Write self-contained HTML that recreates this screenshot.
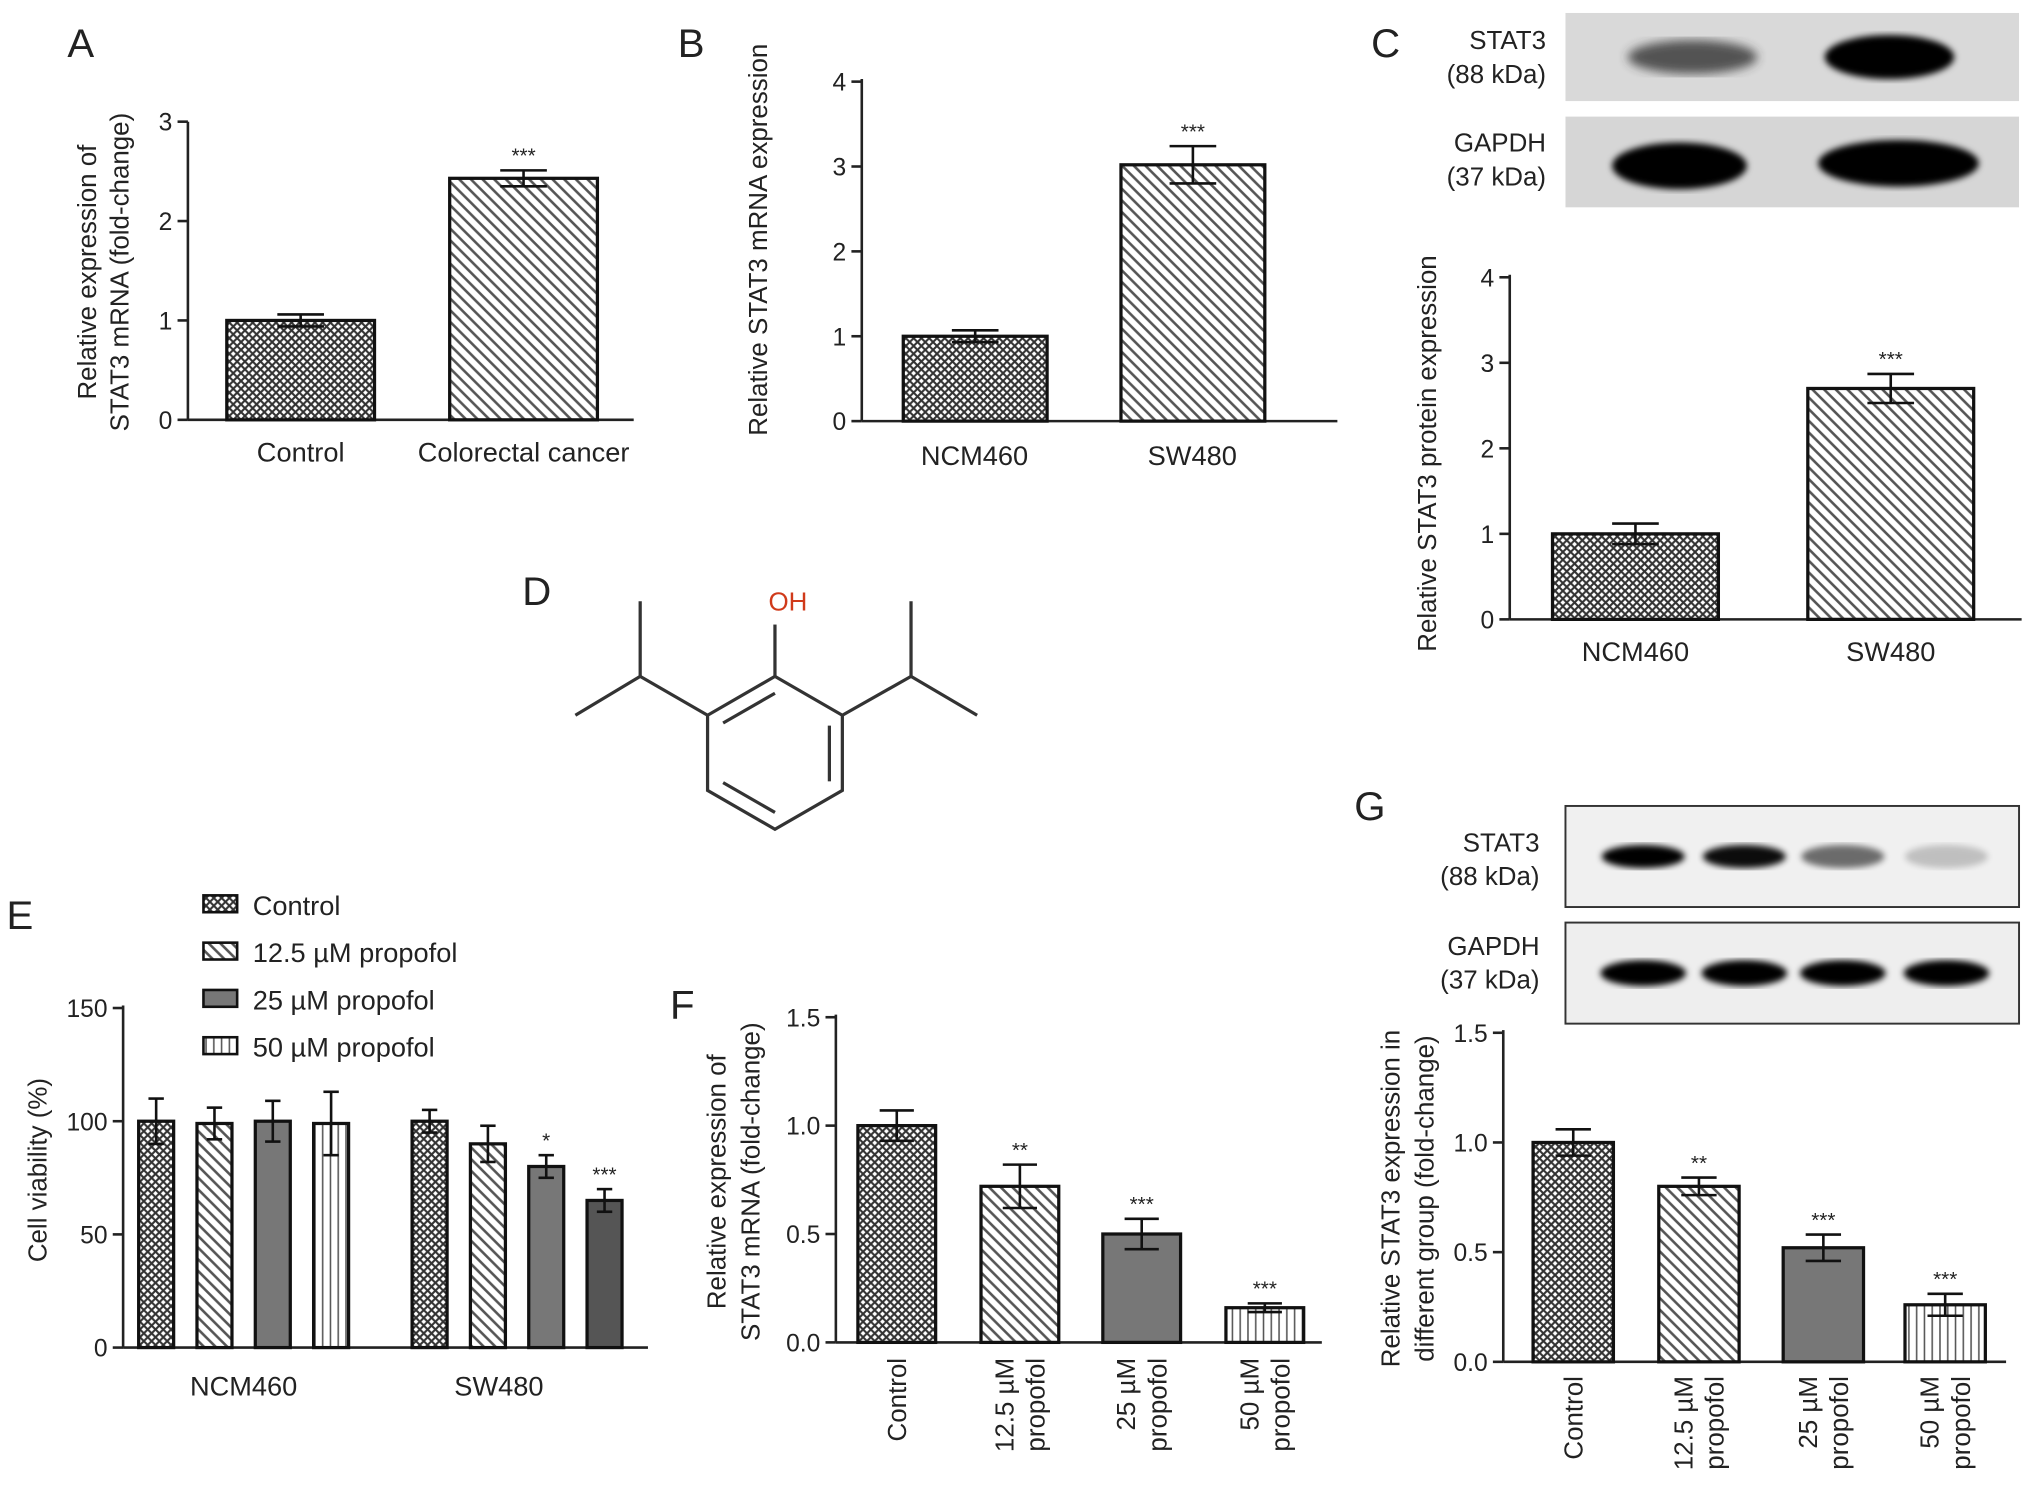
<!DOCTYPE html>
<html><head><meta charset="utf-8"><style>
html,body{margin:0;padding:0;background:#fff}
svg{display:block}
text{font-family:"Liberation Sans",sans-serif;fill:#222}
</style></head><body>
<svg id="fig" width="2032" height="1494" viewBox="0 0 1568 1153" preserveAspectRatio="none" xmlns="http://www.w3.org/2000/svg">
<defs>
<pattern id="pCross" width="6" height="6" patternUnits="userSpaceOnUse"><rect width="6" height="6" fill="#fff"/><path d="M0,6L6,0M0,0L6,6" stroke="#333" stroke-width="1.6"/></pattern>
<pattern id="pDiag" width="9" height="9" patternUnits="userSpaceOnUse"><rect width="9" height="9" fill="#fff"/><path d="M-2,7L2,11M0,0L9,9M7,-2L11,2" stroke="#555" stroke-width="2"/></pattern>
<pattern id="pVert" width="6" height="6" patternUnits="userSpaceOnUse"><rect width="6" height="6" fill="#fff"/><path d="M3,0V6" stroke="#555" stroke-width="1.2"/></pattern>
<filter id="blur"><feGaussianBlur stdDeviation="4"/></filter>
<filter id="blur2"><feGaussianBlur stdDeviation="2.5"/></filter>
</defs>
<g id="root"></g>
</svg>
<script>
// Panel A
const catsA=["Control","Colorectal cancer"];
const valsA=[1.0,2.43];
const errA=[0.06,0.08];
const sigA=["","***"];
// Panel B
const catsB=["NCM460","SW480"];
const valsB=[1.0,3.02];
const errB=[0.07,0.22];
const sigB=["","***"];
// Panel C
const catsC=["NCM460","SW480"];
const valsC=[1.0,2.7];
const errC=[0.12,0.17];
const sigC=["","***"];
// Panel E
const groupsE=["NCM460","SW480"];
const seriesE=["Control","12.5 µM propofol","25 µM propofol","50 µM propofol"];
const valsE_NCM=[100,99,100,99];
const errE_NCM=[10,7,9,14];
const valsE_SW=[100,90,80,65];
const errE_SW=[5,8,5,5];
const sigE_SW=["","","*","***"];
// Panel F
const catsF=[["Control"],["12.5 µM","propofol"],["25 µM","propofol"],["50 µM","propofol"]];
const valsF=[1.0,0.72,0.5,0.16];
const errF=[0.07,0.1,0.07,0.02];
const sigF=["","**","***","***"];
// Panel G
const valsG=[1.0,0.8,0.52,0.26];
const errG=[0.06,0.04,0.06,0.05];
const sigG=["","**","***","***"];
const stat3BandsG=[1.0,0.95,0.55,0.2];

const NS="http://www.w3.org/2000/svg";
const root=document.getElementById('root');
function el(tag,attrs,parent){const e=document.createElementNS(NS,tag);for(const k in attrs)e.setAttribute(k,attrs[k]);(parent||root).appendChild(e);return e;}
function txt(x,y,s,size,anchor,parent,extra){const t=el('text',Object.assign({x:x,y:y,'font-size':size,'text-anchor':anchor||'middle'},extra||{}),parent);t.textContent=s;return t;}
const fills=["url(#pCross)","url(#pDiag)","#777","url(#pVert)"];

function axes(g,x0,y0,yTop,xEnd,ticks,tickLabels,yScale){
  const ax=el('g',{},g);
  
  
  el('line',{x1:x0,y1:y0,x2:x0,y2:yTop,stroke:'#222','stroke-width':2},ax);
  ticks.forEach((t,i)=>{const y=yScale(t);el('line',{x1:x0-8,y1:y,x2:x0,y2:y,stroke:'#222','stroke-width':2},ax);txt(x0-12,y+7,tickLabels[i],19,'end',ax);});
  const xa=el('line',{x1:x0,y1:y0,x2:xEnd,y2:y0,stroke:'#222','stroke-width':2},g);
  
  
}
function bar(g,x,w,v,e,y0,ys,fill,sig,name){
  const b=el('rect',{x:x,y:ys(v),width:w,height:y0-ys(v),fill:fill,stroke:'#111','stroke-width':2.5},g);
  
  
  const cx=x+w/2,hw=Math.min(w*0.22,18);
  el('line',{x1:cx,y1:ys(v+e),x2:cx,y2:ys(v-e),stroke:'#111','stroke-width':2},g);
  el('line',{x1:cx-hw,y1:ys(v+e),x2:cx+hw,y2:ys(v+e),stroke:'#111','stroke-width':2},g);
  el('line',{x1:cx-hw,y1:ys(v-e),x2:cx+hw,y2:ys(v-e),stroke:'#111','stroke-width':2},g);
  if(sig)txt(cx,ys(v+e)-6,sig,16,'middle',g);
}
function panelLabel(x,y,s){const t=txt(x,y,s,31,'start');}

// ---- A
(function(){const g=el('g',{});
const y0=324,k=76.7,ys=v=>y0-v*k;
axes(g,145,y0,94,489,[0,1,2,3],["0","1","2","3"],ys);
const xs=[175,347];
catsA.forEach((c,i)=>{bar(g,xs[i],114,valsA[i],errA[i],y0,ys,fills[i===0?0:1],sigA[i],'bar-'+c.toLowerCase().replace(/ /g,'-'));txt(xs[i]+57,356,c,21,'middle',g);});
txt(0,0,"Relative expression of",20,'middle',g,{transform:'translate(74,210) rotate(-90)'});
txt(0,0,"STAT3 mRNA (fold-change)",20,'middle',g,{transform:'translate(99,210) rotate(-90)'});
})();
panelLabel(52,44,"A");
// ---- B
(function(){const g=el('g',{});
const y0=325,k=65.5,ys=v=>y0-v*k;
axes(g,665,y0,61,1032,[0,1,2,3,4],["0","1","2","3","4"],ys);
const xs=[697,865];
catsB.forEach((c,i)=>{bar(g,xs[i],111,valsB[i],errB[i],y0,ys,fills[i===0?0:1],sigB[i],'bar-'+c.toLowerCase());txt(xs[i]+55,359,c,21,'middle',g);});
txt(0,0,"Relative STAT3 mRNA expression",20,'middle',g,{transform:'translate(592,185) rotate(-90)'});
})();
panelLabel(523,44,"B");
// ---- C
panelLabel(1058,44,"C");
(function(){const g=el('g',{});
el('rect',{x:1208,y:10,width:350,height:68,fill:'#d9d9d9'},g);
el('rect',{x:1208,y:90,width:350,height:70,fill:'#d6d6d6'},g);
el('ellipse',{cx:1306,cy:44,rx:50,ry:13,fill:'#333',opacity:0.8,filter:'url(#blur)'},g);
el('ellipse',{cx:1458,cy:44,rx:50,ry:17,fill:'#000',filter:'url(#blur2)'},g);
el('ellipse',{cx:1296,cy:128,rx:52,ry:18,fill:'#000',filter:'url(#blur2)'},g);
el('ellipse',{cx:1465,cy:126,rx:62,ry:18,fill:'#000',filter:'url(#blur2)'},g);
txt(1193,38,"STAT3",20,'end',g);txt(1193,64,"(88 kDa)",20,'end',g);
txt(1193,117,"GAPDH",20,'end',g);txt(1193,143,"(37 kDa)",20,'end',g);
})();
(function(){const g=el('g',{});
const y0=478,k=66,ys=v=>y0-v*k;
axes(g,1165,y0,212,1560,[0,1,2,3,4],["0","1","2","3","4"],ys);
const xs=[1198,1395];
catsC.forEach((c,i)=>{bar(g,xs[i],128,valsC[i],errC[i],y0,ys,fills[i===0?0:1],sigC[i],'bar-'+c.toLowerCase());txt(xs[i]+64,510,c,21,'middle',g);});
txt(0,0,"Relative STAT3 protein expression",20,'middle',g,{transform:'translate(1108,350) rotate(-90)'});
})();
// ---- D
panelLabel(403,467,"D");
(function(){const g=el('g',{stroke:'#333','stroke-width':2.5,fill:'none'});
const P=[[598,522],[650,552],[650,610],[598,640],[546,610],[546,552]];
el('polygon',{points:P.map(p=>p.join(',')).join(' ')},g);
el('line',{x1:558,y1:558,x2:598,y2:535},g);
el('line',{x1:640,y1:560,x2:640,y2:603},g);
el('line',{x1:558,y1:604,x2:598,y2:627},g);
[[598,522,598,482],[546,552,494,522],[494,522,494,464],[494,522,444,552],[650,552,703,522],[703,522,703,464],[703,522,754,552]].forEach(l=>el('line',{x1:l[0],y1:l[1],x2:l[2],y2:l[3]},g));
txt(608,471,"OH",20,'middle',null,{style:'fill:#d03a1a'});
})();
// ---- E
panelLabel(5,717,"E");
(function(){const g=el('g',{});
const y0=1040,k=1.747,ys=v=>y0-v*k;
axes(g,95,y0,776,500,[0,50,100,150],["0","50","100","150"],ys);
const nx=[107,152,197,242],sx=[318,363,408,453];
const sFills=[fills[0],fills[1],'#777','#555'];
valsE_NCM.forEach((v,i)=>bar(g,nx[i],27,v,errE_NCM[i],y0,ys,fills[i],'','bar-ncm460-series-'+(i+1)));
valsE_SW.forEach((v,i)=>bar(g,sx[i],27,v,errE_SW[i],y0,ys,sFills[i],sigE_SW[i],'bar-sw480-series-'+(i+1)));
txt(188,1077,groupsE[0],21,'middle',g);txt(385,1077,groupsE[1],21,'middle',g);
txt(0,0,"Cell viability (%)",20,'middle',g,{transform:'translate(36,903) rotate(-90)'});
seriesE.forEach((s,i)=>{const lg=el('g',{},g);
 el('rect',{x:157,y:691+i*36.5,width:26,height:13,fill:fills[i],stroke:'#111','stroke-width':2},lg);txt(195,706+i*36.5,s,21,'start',lg);});
})();
// ---- F
panelLabel(517,786,"F");
(function(){const g=el('g',{});
const y0=1036,k=167.3,ys=v=>y0-v*k;
axes(g,645,y0,783,1020,[0,0.5,1,1.5],["0.0","0.5","1.0","1.5"],ys);
const xs=[662,757,851,946];
valsF.forEach((v,i)=>{bar(g,xs[i],60,v,errF[i],y0,ys,fills[i],sigF[i],'bar-f-'+(i+1));
 const cx=xs[i]+30;catsF[i].forEach((l,j)=>txt(0,0,l,20,'end',g,{transform:`translate(${cx+7-(catsF[i].length-1)*12+j*24},1048) rotate(-90)`}));});
txt(0,0,"Relative expression of",20,'middle',g,{transform:'translate(560,912) rotate(-90)'});
txt(0,0,"STAT3 mRNA (fold-change)",20,'middle',g,{transform:'translate(586,912) rotate(-90)'});
})();
// ---- G
panelLabel(1045,633,"G");
(function(){const g=el('g',{});
el('rect',{x:1208,y:622,width:350,height:78,fill:'#f0f0f0',stroke:'#333','stroke-width':1.5},g);
el('rect',{x:1208,y:712,width:350,height:78,fill:'#eeeeee',stroke:'#333','stroke-width':1.5},g);
const bx=[1268,1346,1422,1502];
stat3BandsG.forEach((a,i)=>el('ellipse',{cx:bx[i],cy:661,rx:32,ry:9,fill:'#000',opacity:a,filter:'url(#blur2)'},g));
bx.forEach(x=>el('ellipse',{cx:x,cy:751,rx:33,ry:10,fill:'#000',filter:'url(#blur2)'},g));
txt(1188,657,"STAT3",20,'end',g);txt(1188,683,"(88 kDa)",20,'end',g);
txt(1188,737,"GAPDH",20,'end',g);txt(1188,763,"(37 kDa)",20,'end',g);
})();
(function(){const g=el('g',{});
const y0=1051,k=169.3,ys=v=>y0-v*k;
axes(g,1160,y0,795,1548,[0,0.5,1,1.5],["0.0","0.5","1.0","1.5"],ys);
const xs=[1183,1280,1376,1470];
valsG.forEach((v,i)=>{bar(g,xs[i],62,v,errG[i],y0,ys,fills[i],sigG[i],'bar-g-'+(i+1));
 const cx=xs[i]+31;catsF[i].forEach((l,j)=>txt(0,0,l,20,'end',g,{transform:`translate(${cx+7-(catsF[i].length-1)*12+j*24},1062) rotate(-90)`}));});
txt(0,0,"Relative STAT3 expression in",20,'middle',g,{transform:'translate(1080,925) rotate(-90)'});
txt(0,0,"different group (fold-change)",20,'middle',g,{transform:'translate(1106,925) rotate(-90)'});
})();
</script>
</body></html>
